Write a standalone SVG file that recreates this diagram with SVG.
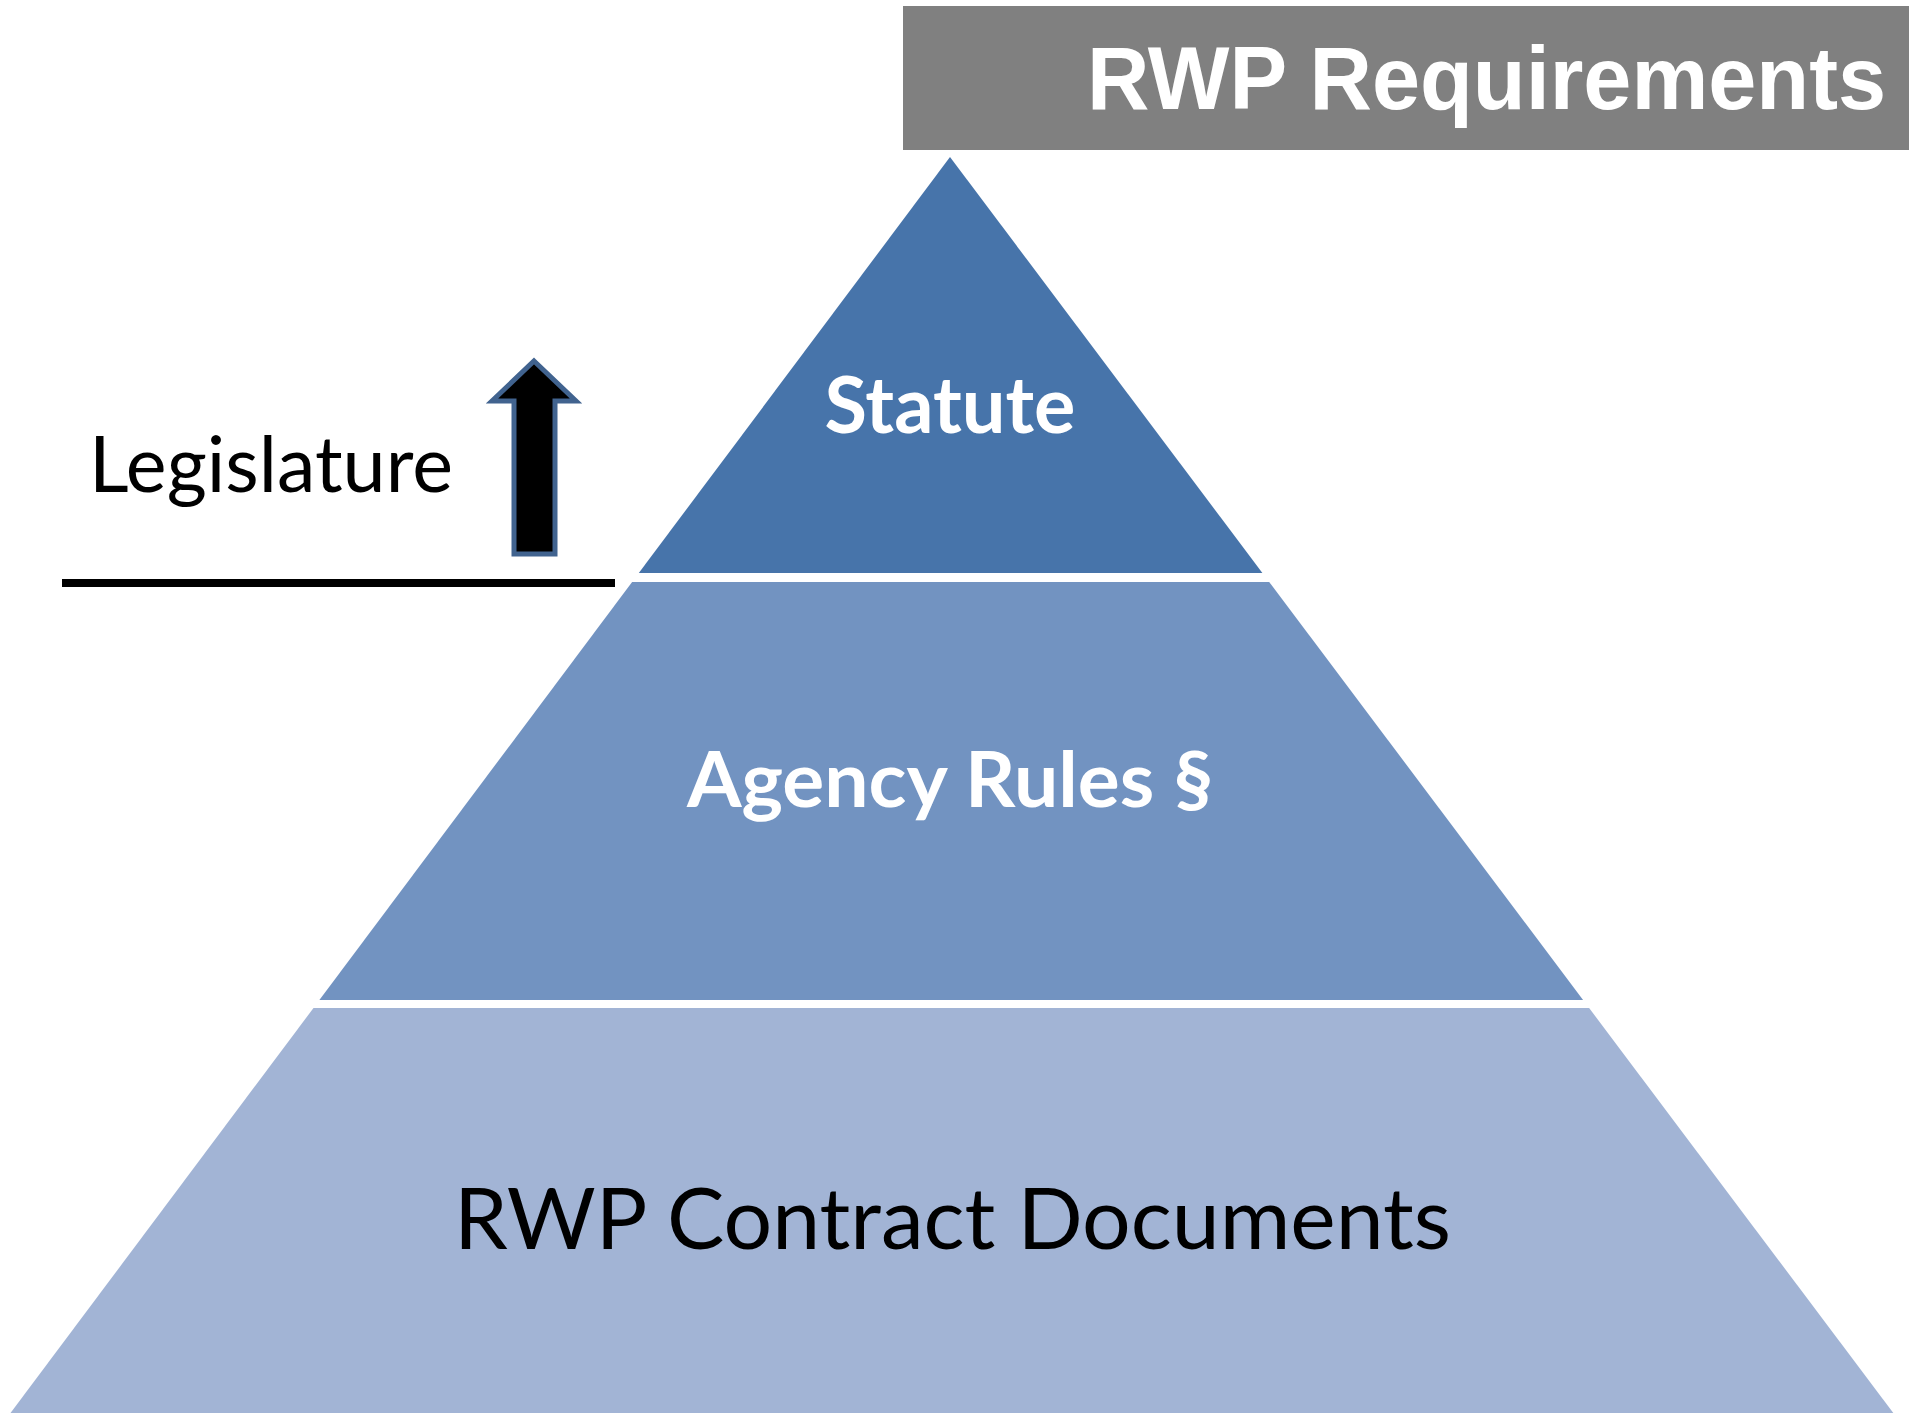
<svg xmlns="http://www.w3.org/2000/svg" width="1912" height="1413" viewBox="0 0 1912 1413">
<style>
.lbl{font-family:Lato,"Open Sans","DejaVu Sans",sans-serif;text-anchor:middle}
.w{fill:#ffffff;font-weight:bold}
.k{fill:#000000}
</style>
<rect width="1912" height="1413" fill="#ffffff"/>
<g id="title">
<rect x="903" y="6" width="1006" height="144" fill="#808080"/>
<text x="1087" y="109" font-family="'Liberation Sans',Arial,sans-serif" font-weight="bold" font-size="89" fill="#ffffff" textLength="799" lengthAdjust="spacingAndGlyphs">RWP Requirements</text>
</g>
<g id="statute">
<polygon points="950,157 1262.4,573 638.8,573" fill="#4774AA"/>
<text class="lbl w" x="950" y="433" font-size="78" textLength="251" lengthAdjust="spacingAndGlyphs">Statute</text>
</g>
<g id="agency-rules">
<polygon points="632.1,582 1269.2,582 1583.1,1000 319.4,1000" fill="#7293C1"/>
<text class="lbl w" x="950" y="807" font-size="76" textLength="526" lengthAdjust="spacingAndGlyphs">Agency Rules §</text>
</g>
<g id="contract-documents">
<polygon points="313.5,1008 1589.1,1008 1893.3,1413 10.5,1413" fill="#A2B4D5"/>
<text class="lbl k" x="952.5" y="1249" font-size="85" textLength="997" lengthAdjust="spacingAndGlyphs">RWP Contract Documents</text>
</g>
<g id="legislature">
<text class="lbl k" x="271" y="492" font-size="77" textLength="364" lengthAdjust="spacingAndGlyphs">Legislature</text>
</g>
<g id="connectors">
<polygon points="534,361 576,401 555,401 555,554 514,554 514,401 492,401" fill="#000000" stroke="#41638F" stroke-width="5"/>
<line x1="62" y1="583" x2="615" y2="583" stroke="#000000" stroke-width="8"/>
</g>
</svg>
